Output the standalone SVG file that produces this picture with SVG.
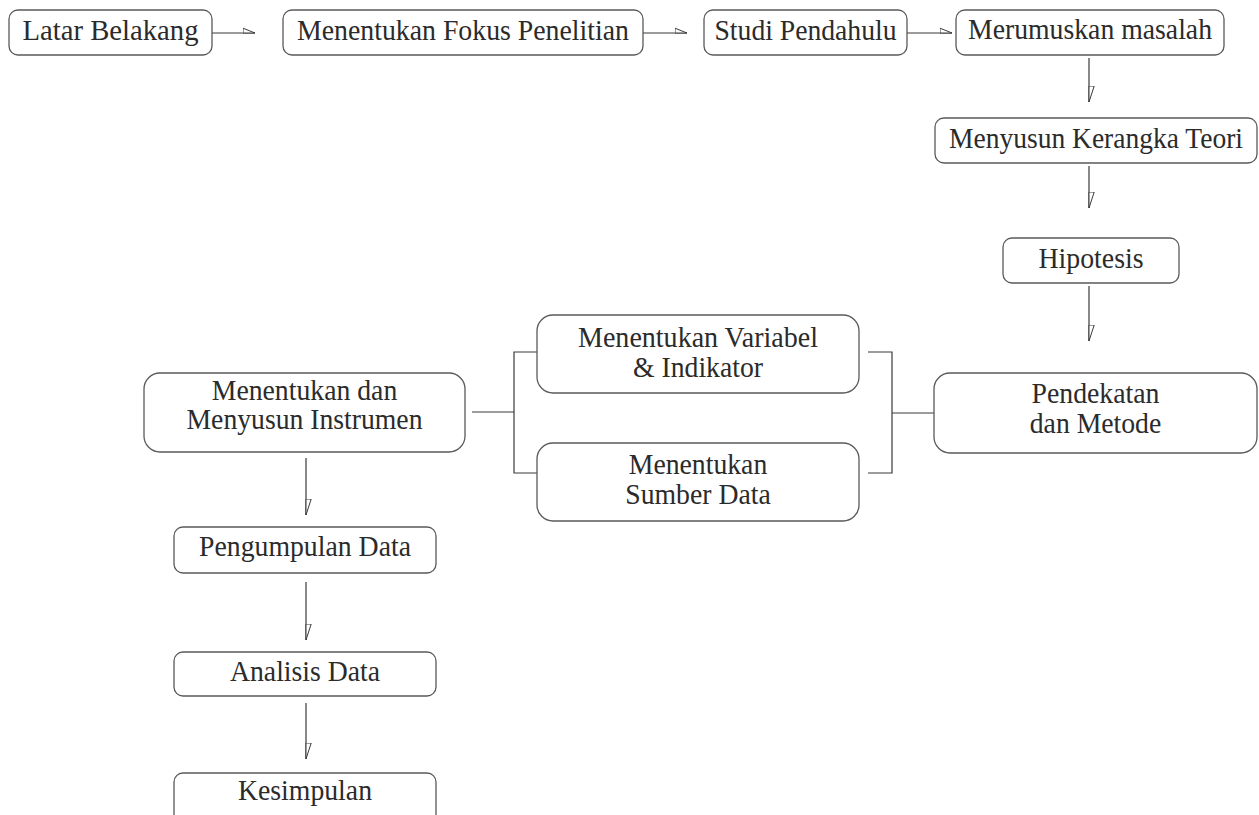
<svg xmlns="http://www.w3.org/2000/svg" width="1259" height="815" viewBox="0 0 1259 815">
<style>
.box{fill:#fff;stroke:#5a5a5a;stroke-width:1.3}
.t{font-family:'Liberation Serif','Times New Roman',Times,serif;font-size:29.5px;fill:#2b2b2b;text-anchor:middle}
.ln{fill:none;stroke:#3a3a3a;stroke-width:1.2}
</style>
<defs>
<marker id="ah" markerUnits="userSpaceOnUse" viewBox="0 0 13 7" refX="12.5" refY="6" markerWidth="13" markerHeight="7" orient="auto">
<path d="M0.5,6 L0.5,1.2 L12.5,6 Z" fill="#fff" stroke="#3a3a3a" stroke-width="1"/>
</marker>
<marker id="av" markerUnits="userSpaceOnUse" viewBox="0 0 17 7" refX="16.5" refY="6" markerWidth="17" markerHeight="7" orient="auto">
<path d="M0.5,6 L0.5,0.8 L16.5,6 Z" fill="#fff" stroke="#3a3a3a" stroke-width="1"/>
</marker>
</defs>
<rect width="1259" height="815" fill="#fff"/>
<g id="connectors">
<line class="ln" x1="212" y1="33" x2="255" y2="33" marker-end="url(#ah)"/>
<line class="ln" x1="643" y1="33" x2="687" y2="33" marker-end="url(#ah)"/>
<line class="ln" x1="907" y1="33" x2="952" y2="33" marker-end="url(#ah)"/>
<line class="ln" x1="1089" y1="58" x2="1089" y2="102" marker-end="url(#av)"/>
<line class="ln" x1="1089" y1="166" x2="1089" y2="208" marker-end="url(#av)"/>
<line class="ln" x1="1089" y1="286" x2="1089" y2="341" marker-end="url(#av)"/>
<line class="ln" x1="306" y1="458" x2="306" y2="515" marker-end="url(#av)"/>
<line class="ln" x1="306" y1="582" x2="306" y2="640" marker-end="url(#av)"/>
<line class="ln" x1="306" y1="703" x2="306" y2="759" marker-end="url(#av)"/>
<path class="ln" d="M472,412 H514 M537,352 H514 V473 H537"/>
<path class="ln" d="M868,352 H892 V473 H868 M892,413 H934"/>
</g>
<g id="n-latar"><rect class="box" x="9" y="10" width="203" height="45" rx="9"/><text class="t" x="110.5" y="40" textLength="176" lengthAdjust="spacingAndGlyphs">Latar Belakang</text></g>
<g id="n-fokus"><rect class="box" x="283" y="10" width="360" height="45" rx="9"/><text class="t" x="463" y="40" textLength="332" lengthAdjust="spacingAndGlyphs">Menentukan Fokus Penelitian</text></g>
<g id="n-studi"><rect class="box" x="704" y="10" width="203" height="45" rx="9"/><text class="t" x="805.5" y="40" textLength="182" lengthAdjust="spacingAndGlyphs">Studi Pendahulu</text></g>
<g id="n-merumuskan"><rect class="box" x="956" y="10" width="268" height="45" rx="9"/><text class="t" x="1090" y="39" textLength="244" lengthAdjust="spacingAndGlyphs">Merumuskan masalah</text></g>
<g id="n-kerangka"><rect class="box" x="935" y="118" width="322" height="45" rx="9"/><text class="t" x="1096" y="148" textLength="294" lengthAdjust="spacingAndGlyphs">Menyusun Kerangka Teori</text></g>
<g id="n-hipotesis"><rect class="box" x="1003" y="238" width="176" height="45" rx="9"/><text class="t" x="1091" y="268" textLength="105" lengthAdjust="spacingAndGlyphs">Hipotesis</text></g>
<g id="n-pendekatan"><rect class="box" x="934" y="373" width="323" height="80" rx="16"/><text class="t" x="1095.5" y="403" textLength="128" lengthAdjust="spacingAndGlyphs">Pendekatan</text><text class="t" x="1095.5" y="433" textLength="131.5" lengthAdjust="spacingAndGlyphs">dan Metode</text></g>
<g id="n-variabel"><rect class="box" x="537" y="315" width="322" height="78" rx="16"/><text class="t" x="698" y="347" textLength="240" lengthAdjust="spacingAndGlyphs">Menentukan Variabel</text><text class="t" x="698" y="377" textLength="130" lengthAdjust="spacingAndGlyphs">&amp; Indikator</text></g>
<g id="n-sumber"><rect class="box" x="537" y="443" width="322" height="78" rx="16"/><text class="t" x="698" y="474" textLength="138.5" lengthAdjust="spacingAndGlyphs">Menentukan</text><text class="t" x="698" y="504" textLength="145.5" lengthAdjust="spacingAndGlyphs">Sumber Data</text></g>
<g id="n-instrumen"><rect class="box" x="144" y="373" width="321" height="79" rx="16"/><text class="t" x="304.5" y="400" textLength="185.5" lengthAdjust="spacingAndGlyphs">Menentukan dan</text><text class="t" x="304.5" y="429" textLength="236" lengthAdjust="spacingAndGlyphs">Menyusun Instrumen</text></g>
<g id="n-pengumpulan"><rect class="box" x="174" y="527" width="262" height="46" rx="9"/><text class="t" x="305" y="556" textLength="212" lengthAdjust="spacingAndGlyphs">Pengumpulan Data</text></g>
<g id="n-analisis"><rect class="box" x="174" y="652" width="262" height="44" rx="9"/><text class="t" x="305" y="681" textLength="150" lengthAdjust="spacingAndGlyphs">Analisis Data</text></g>
<g id="n-kesimpulan"><rect class="box" x="174" y="773" width="262" height="60" rx="9"/><text class="t" x="305" y="800" textLength="134" lengthAdjust="spacingAndGlyphs">Kesimpulan</text></g>
</svg>
